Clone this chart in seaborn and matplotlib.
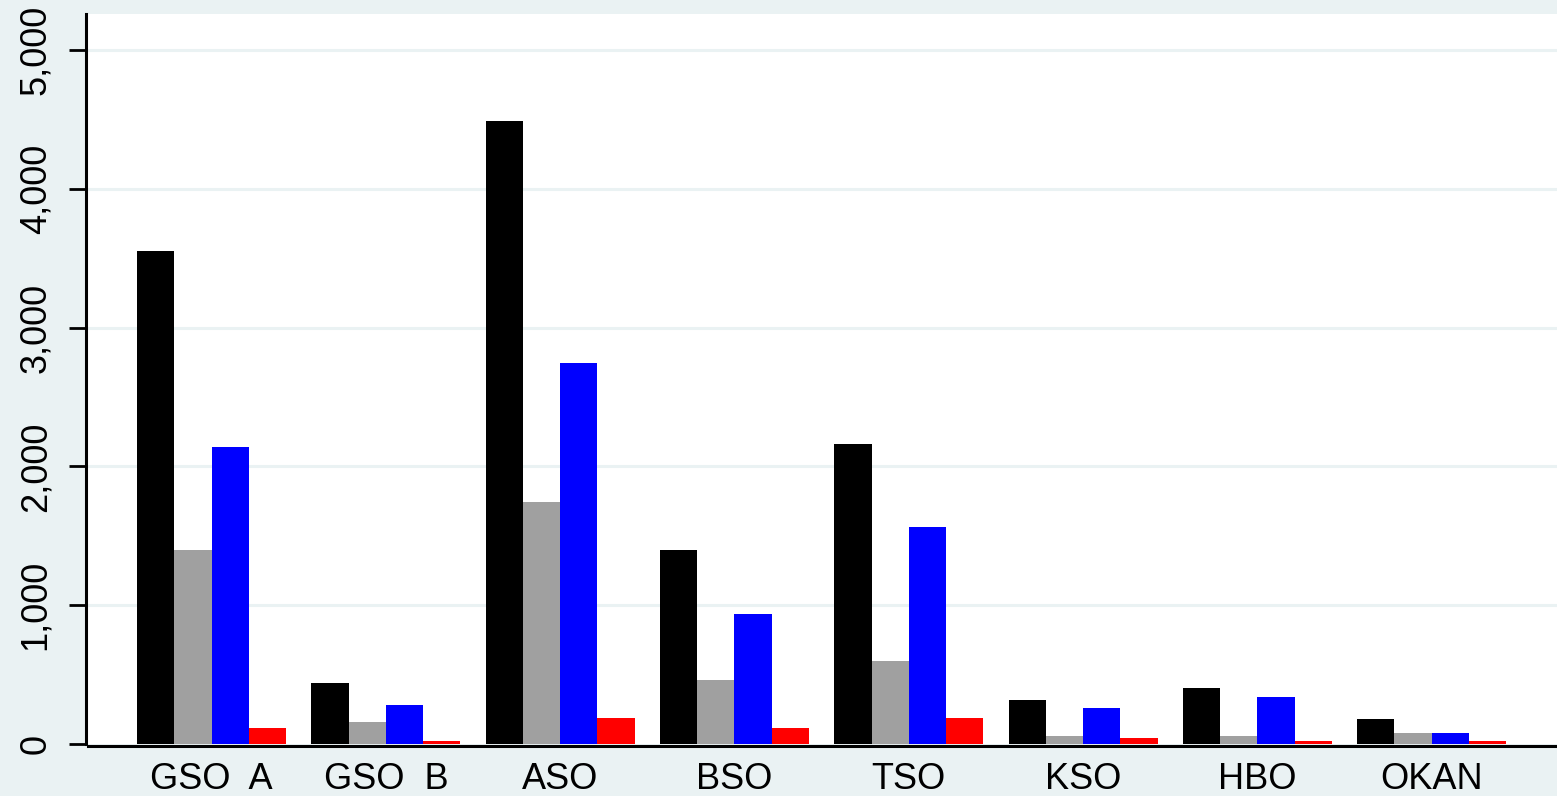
import pandas as pd
import matplotlib
matplotlib.use("Agg")
import matplotlib.pyplot as plt
import seaborn as sns

# Datos
categorias = ["GSO  A", "GSO  B", "ASO", "BSO", "TSO", "KSO", "HBO", "OKAN"]
serie_negra = [3550, 440, 4490, 1400, 2160, 320, 400, 180]
serie_gris = [1400, 160, 1745, 460, 600, 60, 60, 80]
serie_azul = [2140, 280, 2745, 940, 1565, 260, 340, 80]
serie_roja = [115, 22, 185, 115, 185, 40, 22, 22]
series = ["s1", "s2", "s3", "s4"]
colores = ["#000000", "#A0A0A0", "#0000FF", "#FF0000"]

df = pd.DataFrame({
    "Categoria": categorias * 4,
    "Serie": sum([[s] * len(categorias) for s in series], []),
    "Valor": serie_negra + serie_gris + serie_azul + serie_roja,
})

sns.set_style("white")
plt.rcParams['font.family'] = ['Liberation Sans', 'DejaVu Sans']
plt.rcParams['text.color'] = 'black'
plt.rcParams['xtick.color'] = 'black'
plt.rcParams['ytick.color'] = 'black'
plt.rcParams['ytick.left'] = True

fondo = "#EAF2F3"
fig = plt.figure(figsize=(15.57, 7.96), dpi=100, facecolor=fondo)
ax = fig.add_axes([88 / 1557, 52 / 796, 1 - 88 / 1557, (743 - 13) / 796])
ax.set_facecolor("white")

# ejes estilo Stata (antes de los ticks: set_position reinicia los ticks)
for lado in ["top", "right"]:
    ax.spines[lado].set_visible(False)
for lado in ["left", "bottom"]:
    ax.spines[lado].set_color("black")
    ax.spines[lado].set_linewidth(2.2)
    ax.spines[lado].set_position(("outward", 1.1))

sns.barplot(data=df, x="Categoria", y="Valor", hue="Serie", order=categorias,
            hue_order=series, palette=colores, width=0.855, saturation=1,
            legend=False, ax=ax, linewidth=0, errorbar=None)

ax.set_xlim(-0.71, 7.72)
ax.set_ylim(0, 5260)
ax.set_yticks([0, 1000, 2000, 3000, 4000, 5000])
ax.set_yticklabels(["0", "1,000", "2,000", "3,000", "4,000", "5,000"],
                   rotation=90, va="center", fontsize=26)
for y in [1000, 2000, 3000, 4000, 5000]:
    ax.axhline(y, color=fondo, linewidth=2.2, zorder=0)

ax.tick_params(axis="y", left=True, direction="out", length=12, width=2,
               color="black", pad=12, labelcolor="black")
ax.tick_params(axis="x", bottom=False, length=0, pad=12, labelsize=26,
               labelcolor="black")
ax.set_xlabel("")
ax.set_ylabel("")

fig.savefig("out.png", dpi=100, facecolor=fondo)
